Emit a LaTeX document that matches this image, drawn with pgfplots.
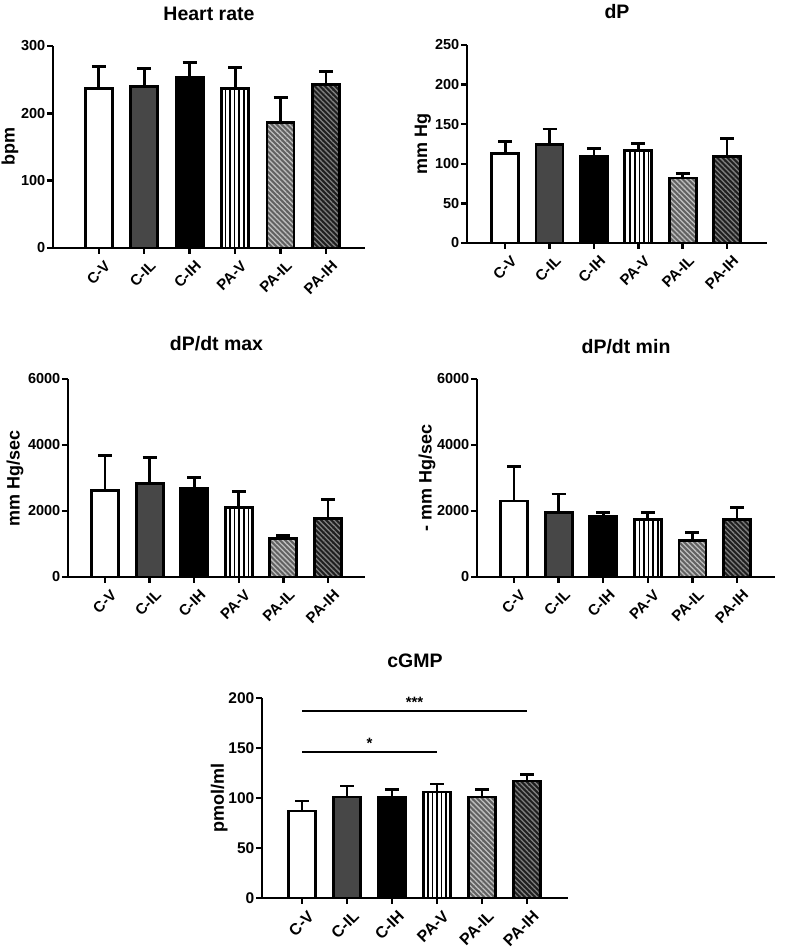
\documentclass[border=0pt]{standalone}
\usepackage{fontspec}
\setmainfont{Liberation Sans}
\usepackage{pgfplots}
\pgfplotsset{compat=1.18}
\usetikzlibrary{patterns.meta}
\newcommand\ttlfont{\bfseries\fontsize{19.5}{22}\selectfont}
\newcommand\lblfont{\bfseries\fontsize{18}{21}\selectfont}
\newcommand\ytfont{\bfseries\fontsize{14.5}{16}\selectfont}
\newcommand\xtfont{\bfseries\fontsize{15}{17}\selectfont}
\pgfplotsset{
  gp/.style={
    scale only axis,
    anchor=south west,
    axis lines=left,
    axis line style={line width=2.8pt,-},
    ymin=0,
    clip=false,
    xtick={0,1,2,3,4,5},
    xticklabels={C-V,C-IL,C-IH,PA-V,PA-IL,PA-IH},
    tick align=outside,
    major tick length=6pt,
    tick style={line width=2.4pt,black},
    xticklabel style={xshift=5pt,yshift=-4pt,rotate=45,anchor=north east,font=\xtfont,inner sep=1pt},
    yticklabel style={font=\ytfont,inner sep=1.5pt},
    /pgf/number format/assume math mode=true,
    /pgf/number format/1000 sep={},
    scaled y ticks=false,
    title style={font=\ttlfont,at={(axis description cs:0.5,1)},anchor=base},
    every axis y label/.style={rotate=90,anchor=center,font=\lblfont},
  },
  bb/.style={ybar,bar width=27pt,bar shift=0pt,draw=black,line width=2.8pt,
    error bars/y dir=plus,error bars/y explicit,
    error bars/error bar style={line width=2.8pt,black},
    error bars/error mark options={line width=2.8pt,mark size=7pt,black,rotate=90}},
  cv/.style={bb,fill=white},
  cil/.style={bb,fill=black!72},
  cih/.style={bb,fill=black},
  pav/.style={bb,pattern={Lines[angle=90,distance=4.6pt,line width=1.7pt]},pattern color=black},
  pailbg/.style={ybar,bar width=27pt,bar shift=0pt,draw=none,fill=black!62},
  pail/.style={bb,pattern={Lines[angle=-45,distance=3.6pt,line width=1.3pt]},pattern color=black!25},
  paihbg/.style={ybar,bar width=27pt,bar shift=0pt,draw=none,fill=black!88},
  paih/.style={bb,pattern={Lines[angle=-45,distance=3.6pt,line width=1.3pt]},pattern color=black!50},
}
\begin{document}
\begin{tikzpicture}
\path[use as bounding box] (0,0) rectangle (785pt,950pt);

% Heart rate
\begin{axis}[gp,at={(53pt,702pt)},width=312pt,height=202pt,
  xmin=-1.01,xmax=5.86,ymax=300,ytick={0,100,200,300},
  title={Heart rate},title style={yshift=19pt},
  ylabel={bpm},ylabel style={at={(axis description cs:-0.138,0.5)}}]
\addplot[cv] coordinates {(0,237) +- (0,33)};
\addplot[cil] coordinates {(1,240) +- (0,26)};
\addplot[cih] coordinates {(2,253) +- (0,23)};
\addplot[pav] coordinates {(3,237) +- (0,31)};
\addplot[pailbg] coordinates {(4,186)};
\addplot[pail] coordinates {(4,186) +- (0,38)};
\addplot[paihbg] coordinates {(5,243)};
\addplot[paih] coordinates {(5,243) +- (0,19)};
\end{axis}

% dP
\begin{axis}[gp,at={(467pt,707pt)},width=300pt,height=198pt,
  xmin=-0.86,xmax=5.9,ymax=250,ytick={0,50,100,150,200,250},
  title={dP},title style={yshift=20pt},
  ylabel={mm Hg},ylabel style={at={(axis description cs:-0.147,0.5)}}]
\addplot[cv] coordinates {(0,113) +- (0,15)};
\addplot[cil] coordinates {(1,124) +- (0,20)};
\addplot[cih] coordinates {(2,109) +- (0,10)};
\addplot[pav] coordinates {(3,117) +- (0,9)};
\addplot[pailbg] coordinates {(4,82)};
\addplot[pail] coordinates {(4,82) +- (0,6)};
\addplot[paihbg] coordinates {(5,109)};
\addplot[paih] coordinates {(5,109) +- (0,23)};
\end{axis}

% dP/dt max
\begin{axis}[gp,at={(68pt,373pt)},width=297pt,height=198pt,
  xmin=-0.83,xmax=5.83,ymax=6000,ytick={0,2000,4000,6000},
  title={dP/dt max},title style={yshift=22pt},
  ylabel={mm Hg/sec},ylabel style={at={(axis description cs:-0.178,0.5)}}]
\addplot[cv] coordinates {(0,2615) +- (0,1055)};
\addplot[cil] coordinates {(1,2838) +- (0,790)};
\addplot[cih] coordinates {(2,2686) +- (0,324)};
\addplot[pav] coordinates {(3,2108) +- (0,476)};
\addplot[pailbg] coordinates {(4,1166)};
\addplot[pail] coordinates {(4,1166) +- (0,100)};
\addplot[paihbg] coordinates {(5,1774)};
\addplot[paih] coordinates {(5,1774) +- (0,577)};
\end{axis}

% dP/dt min
\begin{axis}[gp,at={(477pt,373pt)},width=298pt,height=198pt,
  xmin=-0.83,xmax=5.85,ymax=6000,ytick={0,2000,4000,6000},
  title={dP/dt min},title style={yshift=19pt},
  ylabel={- mm Hg/sec},ylabel style={at={(axis description cs:-0.168,0.5)}}]
\addplot[cv] coordinates {(0,2301) +- (0,1044)};
\addplot[cil] coordinates {(1,1956) +- (0,558)};
\addplot[cih] coordinates {(2,1824) +- (0,132)};
\addplot[pav] coordinates {(3,1753) +- (0,203)};
\addplot[pailbg] coordinates {(4,1115)};
\addplot[pail] coordinates {(4,1115) +- (0,233)};
\addplot[paihbg] coordinates {(5,1753)};
\addplot[paih] coordinates {(5,1753) +- (0,355)};
\end{axis}

% cGMP
\begin{axis}[gp,at={(262pt,52pt)},width=306pt,height=200pt,
  xmin=-0.89,xmax=5.91,ymax=200,ytick={0,50,100,150,200},
  yticklabel style={font=\bfseries\fontsize{15.5}{18}\selectfont},
  xticklabel style={font=\bfseries\fontsize{16}{18}\selectfont},
  title={cGMP},title style={yshift=24pt},
  ylabel={pmol/ml},ylabel style={at={(axis description cs:-0.14,0.5)}}]
\addplot[cv] coordinates {(0,87) +- (0,10)};
\addplot[cil] coordinates {(1,101) +- (0,11)};
\addplot[cih] coordinates {(2,101) +- (0,7.5)};
\addplot[pav] coordinates {(3,106) +- (0,8)};
\addplot[pailbg] coordinates {(4,101)};
\addplot[pail] coordinates {(4,101) +- (0,7.5)};
\addplot[paihbg] coordinates {(5,117)};
\addplot[paih] coordinates {(5,117) +- (0,6.5)};
\addplot[black,line width=2.2pt,no marks] coordinates {(0,187) (5,187)};
\addplot[black,line width=2.2pt,no marks] coordinates {(0,146) (3,146)};
\node[font=\bfseries\fontsize{15}{17}\selectfont,anchor=base] at (axis cs:2.5,190) {***};
\node[font=\bfseries\fontsize{15}{17}\selectfont,anchor=base] at (axis cs:1.5,149) {*};
\end{axis}
\end{tikzpicture}
\end{document}
